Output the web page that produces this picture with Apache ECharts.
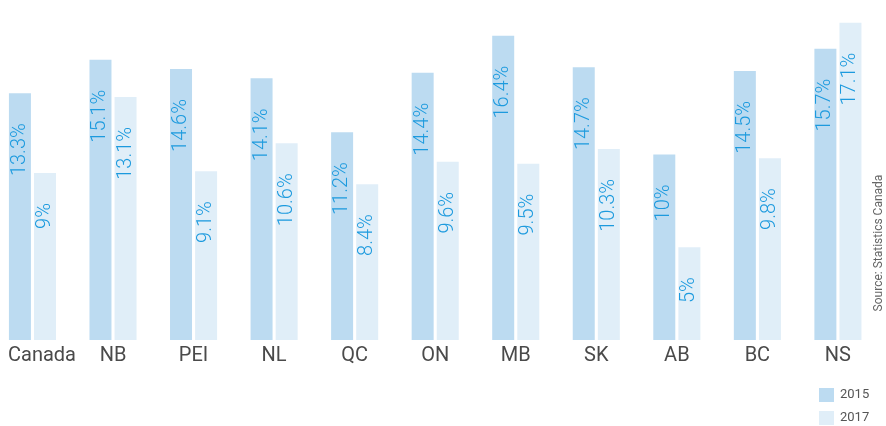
<!DOCTYPE html>
<html>
<head>
<meta charset="utf-8">
<script src="https://cdn.jsdelivr.net/npm/echarts@6/dist/echarts.min.js"></script>
<style>
html,body{margin:0;padding:0;background:#fff;}
#chart{width:886px;height:426px;}
</style>
</head>
<body>
<div id="chart"></div>
<script>
var categories = ['Canada', 'NB', 'PEI', 'NL', 'QC', 'ON', 'MB', 'SK', 'AB', 'BC', 'NS'];
var values2015 = [13.3, 15.1, 14.6, 14.1, 11.2, 14.4, 16.4, 14.7, 10, 14.5, 15.7];
var values2017 = [9, 13.1, 9.1, 10.6, 8.4, 9.6, 9.5, 10.3, 5, 9.8, 17.1];
var seriesNames = ['2015', '2017'];
var sourceText = 'Source: Statistics Canada';

var chart = echarts.init(document.getElementById('chart'), null, {renderer: 'canvas'});
var valueLabel = {
  show: true,
  position: 'insideTop',
  distance: 30,
  rotate: 90,
  align: 'right',
  verticalAlign: 'middle',
  formatter: '{c}%',
  color: '#1c9ade',
  fontFamily: 'Roboto',
  fontWeight: 300,
  fontSize: 20
};
chart.setOption({
  animation: false,
  grid: {left: -7.8, width: 886, top: 6, bottom: 86, containLabel: false, outerBoundsMode: 'none'},
  legend: {
    orient: 'vertical',
    left: 819,
    top: 388,
    height: 60,
    padding: 0,
    itemWidth: 15,
    itemHeight: 14,
    itemGap: 9,
    icon: 'rect',
    textStyle: {color: '#555', fontSize: 13, fontFamily: 'Roboto', padding: [0, 0, 0, 1]},
    data: seriesNames
  },
  xAxis: {
    type: 'category',
    data: categories,
    axisLine: {show: false},
    axisTick: {show: false},
    axisLabel: {
      interval: 0,
      margin: 6,
      color: '#4a4a4a',
      fontSize: 20,
      fontFamily: 'Roboto',
      formatter: function (v, i) { return i === 0 ? '{first|' + v + '}' : v; },
      rich: {first: {padding: [0, 0, 0, 19], fontSize: 20, color: '#4a4a4a', fontFamily: 'Roboto'}}
    }
  },
  yAxis: {
    type: 'value',
    min: 0,
    max: 18,
    show: false,
    splitLine: {show: false}
  },
  graphic: [{
    type: 'text',
    x: 879,
    y: 243,
    rotation: Math.PI / 2,
    style: {
      text: sourceText,
      fill: '#666',
      fontSize: 12,
      fontFamily: 'Roboto',
      align: 'center',
      verticalAlign: 'middle'
    }
  }],
  series: [{
    name: seriesNames[0],
    type: 'bar',
    data: values2015,
    barWidth: 22,
    barGap: '14%',
    itemStyle: {color: '#bcdbf1'},
    label: valueLabel
  }, {
    name: seriesNames[1],
    type: 'bar',
    data: values2017,
    barWidth: 22,
    itemStyle: {color: '#e0eef8'},
    label: valueLabel
  }]
});
</script>
</body>
</html>
